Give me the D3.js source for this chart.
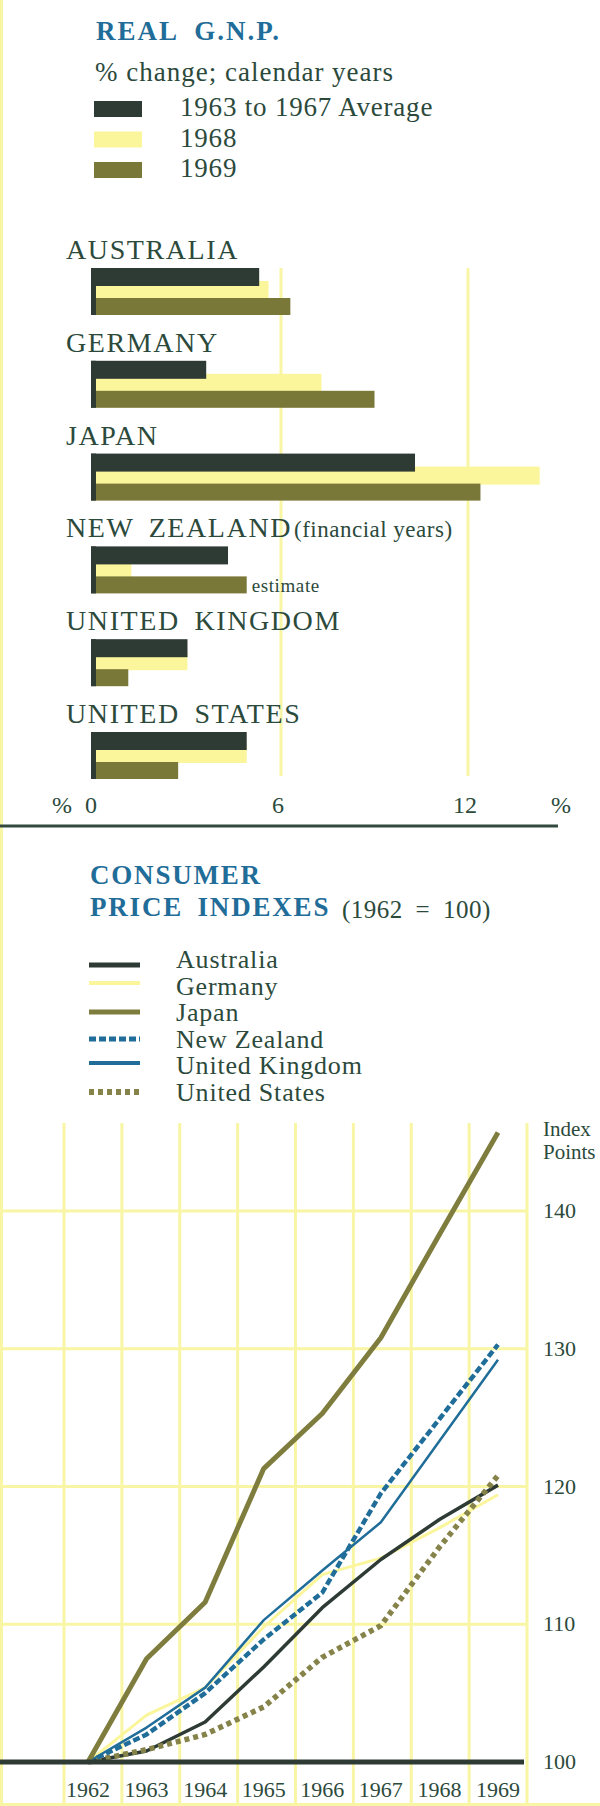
<!DOCTYPE html>
<html>
<head>
<meta charset="utf-8">
<script src="https://cdn.jsdelivr.net/npm/d3@7"></script>
<style>
  body { margin: 0; background: #fff; }
  svg { display: block; font-family: "Liberation Serif", "DejaVu Serif", serif; }
</style>
</head>
<body>
<div id="chart"></div>
<script>
// Real GNP, % change
const countries = ["AUSTRALIA", "GERMANY", "JAPAN", "NEW ZEALAND", "UNITED KINGDOM", "UNITED STATES"];
const avg6367 = [5.3, 3.6, 10.3, 4.3, 3.0, 4.9];
const gnp1968 = [5.6, 7.3, 14.3, 1.2, 3.0, 4.9];
const gnp1969 = [6.3, 9.0, 12.4, 4.9, 1.1, 2.7];
const gnpTicks = [0, 6, 12];

// Consumer price indexes (1962 = 100)
const years = [1962, 1963, 1964, 1965, 1966, 1967, 1968, 1969];
const cpiAustralia = [100, 100.8, 102.9, 106.9, 111.2, 114.7, 117.6, 120.1];
const cpiGermany = [100, 103.4, 105.4, 109.8, 113.6, 114.8, 117.0, 119.4];
const cpiJapan = [100, 107.5, 111.6, 121.3, 125.3, 130.8, 138.3, 145.7];
const cpiNewZealand = [100, 102.0, 105.0, 108.9, 112.3, 119.5, 124.9, 130.3];
const cpiUK = [100, 102.5, 105.4, 110.3, 113.9, 117.4, 123.3, 129.2];
const cpiUS = [100, 100.9, 102.0, 104.0, 107.6, 109.9, 115.6, 120.8];
const cpiTicks = [100, 110, 120, 130, 140];

const W = 600, H = 1806;
const ink = "#2c4a3b", blue = "#1f6d98", dark = "#2e3b35",
      pale = "#fbf59b", olive = "#7a7838", grid = "#f8f5a4";

const svg = d3.select("#chart").append("svg")
  .attr("width", W).attr("height", H);

// page edge
svg.append("rect").attr("x", 0).attr("y", 0).attr("width", 3).attr("height", H).attr("fill", grid);
svg.append("rect").attr("x", 0).attr("y", H - 3).attr("width", W).attr("height", 3).attr("fill", grid);

// ---------- REAL G.N.P. ----------
svg.append("text").attr("x", 96).attr("y", 40)
  .attr("fill", blue).attr("font-size", 27).attr("font-weight", "bold")
  .attr("letter-spacing", 2).attr("word-spacing", 8)
  .text("REAL G.N.P.");
svg.append("text").attr("x", 95).attr("y", 81)
  .attr("fill", ink).attr("font-size", 27).attr("letter-spacing", 1)
  .text("% change; calendar years");

const gnpLegend = [
  { label: "1963 to 1967 Average", color: dark },
  { label: "1968", color: pale },
  { label: "1969", color: olive }
];
const legY = d3.scaleLinear().domain([0, 2]).range([116, 177]);
gnpLegend.forEach((d, i) => {
  svg.append("rect").attr("x", 94).attr("y", legY(i) - 15)
    .attr("width", 48).attr("height", 16).attr("fill", d.color);
  svg.append("text").attr("x", 180).attr("y", legY(i))
    .attr("fill", ink).attr("font-size", 27).attr("letter-spacing", 0.8)
    .text(d.label);
});

const xBar = d3.scaleLinear().domain([0, 12]).range([94, 468]);
const rowY = d3.scaleLinear().domain([0, countries.length - 1]).range([259, 723]);

// grid lines at 6 and 12
svg.selectAll(".gnpgrid").data(gnpTicks.filter(t => t > 0)).enter()
  .append("line")
  .attr("x1", d => xBar(d)).attr("x2", d => xBar(d))
  .attr("y1", 268).attr("y2", 776)
  .attr("stroke", grid).attr("stroke-width", 3);

countries.forEach((c, i) => {
  const y0 = rowY(i);
  const label = svg.append("text").attr("x", 66).attr("y", y0)
    .attr("fill", ink).attr("font-size", 28).attr("letter-spacing", 1.6)
    .attr("word-spacing", 6).text(c);
  if (c === "NEW ZEALAND") {
    svg.append("text").attr("x", 294).attr("y", y0)
      .attr("fill", ink).attr("font-size", 23).attr("letter-spacing", 0.5)
      .text("(financial years)");
  }
  const bx = xBar(0) - 3;
  svg.append("rect").attr("x", bx).attr("y", y0 + 22)
    .attr("width", xBar(gnp1968[i]) - bx).attr("height", 18).attr("fill", pale);
  svg.append("rect").attr("x", bx).attr("y", y0 + 9)
    .attr("width", xBar(avg6367[i]) - bx).attr("height", 18).attr("fill", dark);
  svg.append("rect").attr("x", bx).attr("y", y0 + 39)
    .attr("width", xBar(gnp1969[i]) - bx).attr("height", 17).attr("fill", olive);
  svg.append("rect").attr("x", bx).attr("y", y0 + 9)
    .attr("width", 5).attr("height", 47).attr("fill", dark);
  if (c === "NEW ZEALAND") {
    svg.append("text").attr("x", xBar(gnp1969[i]) + 5).attr("y", y0 + 55)
      .attr("fill", ink).attr("font-size", 19).attr("letter-spacing", 0.6)
      .text("estimate");
  }
});

// axis labels
svg.selectAll(".gnptick").data(gnpTicks).enter()
  .append("text")
  .attr("x", d => xBar(d) - 3).attr("y", 813)
  .attr("text-anchor", "middle").attr("fill", ink).attr("font-size", 24)
  .text(d => d);
svg.append("text").attr("x", 62).attr("y", 813).attr("text-anchor", "middle")
  .attr("fill", ink).attr("font-size", 24).text("%");
svg.append("text").attr("x", 561).attr("y", 813).attr("text-anchor", "middle")
  .attr("fill", ink).attr("font-size", 24).text("%");

// separator
svg.append("line").attr("x1", 0).attr("x2", 558).attr("y1", 826).attr("y2", 826)
  .attr("stroke", "#34493f").attr("stroke-width", 3);

// ---------- CONSUMER PRICE INDEXES ----------
svg.append("text").attr("x", 90).attr("y", 884)
  .attr("fill", blue).attr("font-size", 27).attr("font-weight", "bold")
  .attr("letter-spacing", 1.8).text("CONSUMER");
const t2 = svg.append("text").attr("x", 90).attr("y", 916)
  .attr("fill", blue).attr("font-size", 27).attr("font-weight", "bold")
  .attr("letter-spacing", 1.8).attr("word-spacing", 6);
t2.append("tspan").text("PRICE INDEXES ");
t2.append("tspan").attr("x", 342).attr("y", 918).attr("font-weight", "normal")
  .attr("fill", ink).attr("font-size", 25).attr("letter-spacing", 0.5)
  .attr("word-spacing", 6).text("(1962 = 100)");

const series = [
  { name: "Australia", values: cpiAustralia, color: dark, width: 3.5, dash: null, legW: 5 },
  { name: "Germany", values: cpiGermany, color: pale, width: 3, dash: null, legW: 4 },
  { name: "Japan", values: cpiJapan, color: "#7f7d3e", width: 5, dash: null, legW: 5 },
  { name: "New Zealand", values: cpiNewZealand, color: blue, width: 4.5, dash: "7,3", legW: 5 },
  { name: "United Kingdom", values: cpiUK, color: blue, width: 2.5, dash: null, legW: 4 },
  { name: "United States", values: cpiUS, color: "#858349", width: 5.5, dash: "5,4", legW: 6 }
];
const legLineY = [965, 983, 1012, 1039, 1063, 1092];
const legTextY = d3.scaleLinear().domain([0, series.length - 1]).range([968, 1101]);
series.forEach((s, i) => {
  svg.append("line").attr("x1", 89).attr("x2", 140)
    .attr("y1", legLineY[i]).attr("y2", legLineY[i])
    .attr("stroke", s.color).attr("stroke-width", s.legW)
    .attr("stroke-dasharray", s.dash);
  svg.append("text").attr("x", 176).attr("y", legTextY(i))
    .attr("fill", ink).attr("font-size", 26).attr("letter-spacing", 0.8)
    .text(s.name);
});

// scales
const xGrid = d3.scaleLinear().domain([1961.5, 1969.5]).range([64, 527]);
const xPt = d3.scaleLinear().domain([1962, 1969]).range([88, 498]);
const yCpi = d3.scaleLinear().domain([100, 140]).range([1762, 1211]);

// vertical grid
svg.selectAll(".vgrid").data(d3.range(1961.5, 1970, 1)).enter()
  .append("line")
  .attr("x1", d => xGrid(d)).attr("x2", d => xGrid(d))
  .attr("y1", 1123).attr("y2", H)
  .attr("stroke", grid).attr("stroke-width", 3);
// horizontal grid
svg.selectAll(".hgrid").data(cpiTicks.filter(t => t > 100)).enter()
  .append("line")
  .attr("x1", 0).attr("x2", xGrid(1969.5))
  .attr("y1", d => yCpi(d)).attr("y2", d => yCpi(d))
  .attr("stroke", grid).attr("stroke-width", 3);

// lines
const line = d3.line().x((d, i) => xPt(years[i])).y(d => yCpi(d));
const drawOrder = ["Germany", "United Kingdom", "Australia", "United States", "New Zealand", "Japan"];
drawOrder.forEach(n => {
  const s = series.find(d => d.name === n);
  svg.append("path").datum(s.values)
    .attr("d", line).attr("fill", "none")
    .attr("stroke", s.color).attr("stroke-width", s.width)
    .attr("stroke-dasharray", s.dash)
    .attr("stroke-linejoin", "round");
});

// baseline at 100
svg.append("line").attr("x1", 0).attr("x2", 524)
  .attr("y1", yCpi(100)).attr("y2", yCpi(100))
  .attr("stroke", dark).attr("stroke-width", 5);

// y tick labels on right
svg.selectAll(".ytick").data(cpiTicks).enter()
  .append("text")
  .attr("x", 543).attr("y", d => yCpi(d) + 7)
  .attr("fill", ink).attr("font-size", 22)
  .text(d => d);
svg.append("text").attr("x", 543).attr("y", 1136)
  .attr("fill", ink).attr("font-size", 21).text("Index");
svg.append("text").attr("x", 543).attr("y", 1159)
  .attr("fill", ink).attr("font-size", 21).text("Points");

// year labels
svg.selectAll(".xtick").data(years).enter()
  .append("text")
  .attr("x", d => xPt(d)).attr("y", 1797)
  .attr("text-anchor", "middle").attr("fill", ink).attr("font-size", 22)
  .text(d => d);
</script>
</body>
</html>
